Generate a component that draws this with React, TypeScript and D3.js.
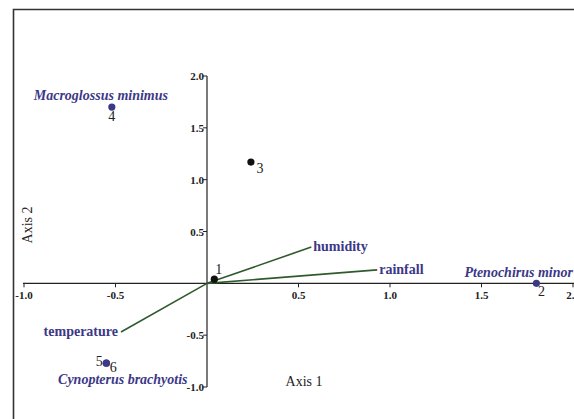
import React from 'react';
import * as d3 from 'd3';

// site scores (Axis 1, Axis 2)
const siteIds = ['1', '2', '3', '4', '5', '6'];
const siteX = [0.04, 1.80, 0.24, -0.52, -0.55, -0.55];
const siteY = [0.04, 0.0, 1.17, 1.70, -0.77, -0.77];
const siteDark = [true, false, true, false, false, false];

// environmental vectors
const envNames = ['humidity', 'rainfall', 'temperature'];
const envX = [0.57, 0.93, -0.47];
const envY = [0.35, 0.13, -0.47];

// species labels (placed by their reading on the axes)
const speciesNames = ['Macroglossus minimus', 'Ptenochirus minor', 'Cynopterus brachyotis'];
const speciesX = [-0.58, 2.0, -0.46];
const speciesY = [1.77, 0.06, -0.975];
const speciesAnchor = ['middle', 'end', 'middle'];

const xTicks = [-1.0, -0.5, 0.5, 1.0, 1.5, 2.0];
const yTicks = [2.0, 1.5, 1.0, 0.5, -0.5, -1.0];

const W = 574;
const H = 419;
const serif = 'Times New Roman, Liberation Serif, Tinos, serif';
const blue = '#3b3887';
const green = '#2f5a2c';

// where the site number sits relative to its point
const labelOffset: Record<string, [number, number, string]> = {
  '1': [1, -5, 'start'],
  '2': [5, 13, 'middle'],
  '3': [9, 11, 'middle'],
  '4': [0, 14, 'middle'],
  '5': [-7, 3, 'middle'],
  '6': [7, 9, 'middle'],
};

export default function App() {
  const x = d3.scaleLinear().domain([-1, 2]).range([24, 573]);
  const y = d3.scaleLinear().domain([-1, 2]).range([387, 76]);
  const x0 = x(0);
  const y0 = y(0);

  return (
    <svg width={W} height={H} style={{ position: 'absolute', left: 0, top: 0, background: '#fff', fontFamily: serif }}>
      {/* frame */}
      <path d={`M13.5,${H} L13.5,9.5 L${W},9.5`} fill="none" stroke="#333" strokeWidth={1.6} />

      {/* axes */}
      <line x1={x(-1) - 1} x2={W} y1={y0} y2={y0} stroke="#222" strokeWidth={1.2} />
      <line x1={x0} x2={x0} y1={y(2)} y2={y(-1)} stroke="#222" strokeWidth={1.2} />

      {xTicks.map(t => (
        <g key={'xt' + t}>
          <line x1={x(t)} x2={x(t)} y1={y0} y2={y0 + 4} stroke="#222" strokeWidth={1} />
          <text x={x(t)} y={y0 + 16} textAnchor="middle" style={{ fontFamily: serif }} fontSize={11}
            fontWeight="bold" fill="#222">{t.toFixed(1)}</text>
        </g>
      ))}
      {yTicks.map(t => (
        <g key={'yt' + t}>
          <line x1={x0 - 4} x2={x0} y1={y(t)} y2={y(t)} stroke="#222" strokeWidth={1} />
          <text x={x0 - 3} y={y(t) + 4} textAnchor="end" style={{ fontFamily: serif }} fontSize={11}
            fontWeight="bold" fill="#222">{t.toFixed(1)}</text>
        </g>
      ))}

      {/* axis titles */}
      <text x={304} y={386} textAnchor="middle" style={{ fontFamily: serif }} fontSize={14} fill="#222">Axis 1</text>
      <text transform="translate(32,225) rotate(-90)" textAnchor="middle" style={{ fontFamily: serif }}
        fontSize={14} fill="#222">Axis 2</text>

      {/* environmental vectors */}
      {envNames.map((n, i) => {
        const ex = x(envX[i]);
        const ey = y(envY[i]);
        const left = envX[i] < 0;
        return (
          <g key={n}>
            <line x1={x0} y1={y0} x2={ex} y2={ey} stroke={green} strokeWidth={1.6} />
            <text x={left ? ex - 3 : ex + 2} y={ey + 4} textAnchor={left ? 'end' : 'start'}
              style={{ fontFamily: serif }} fontSize={14} fontWeight="bold" fill={blue}>{n}</text>
          </g>
        );
      })}

      {/* sites */}
      {siteIds.map((id, i) => {
        const px = x(siteX[i]);
        const py = y(siteY[i]);
        const [dx, dy, anchor] = labelOffset[id];
        return (
          <g key={id}>
            <circle cx={px} cy={py} r={3.6} fill={siteDark[i] ? '#111' : blue} />
            <text x={px + dx} y={py + dy} textAnchor={anchor} style={{ fontFamily: serif }} fontSize={14}
              fill="#222">{id}</text>
          </g>
        );
      })}

      {/* species */}
      {speciesNames.map((s, i) => (
        <text key={s} x={x(speciesX[i])} y={y(speciesY[i])} textAnchor={speciesAnchor[i]}
          style={{ fontFamily: serif }} fontSize={14} fontStyle="italic" fontWeight="bold" fill={blue}>{s}</text>
      ))}
    </svg>
  );
}
